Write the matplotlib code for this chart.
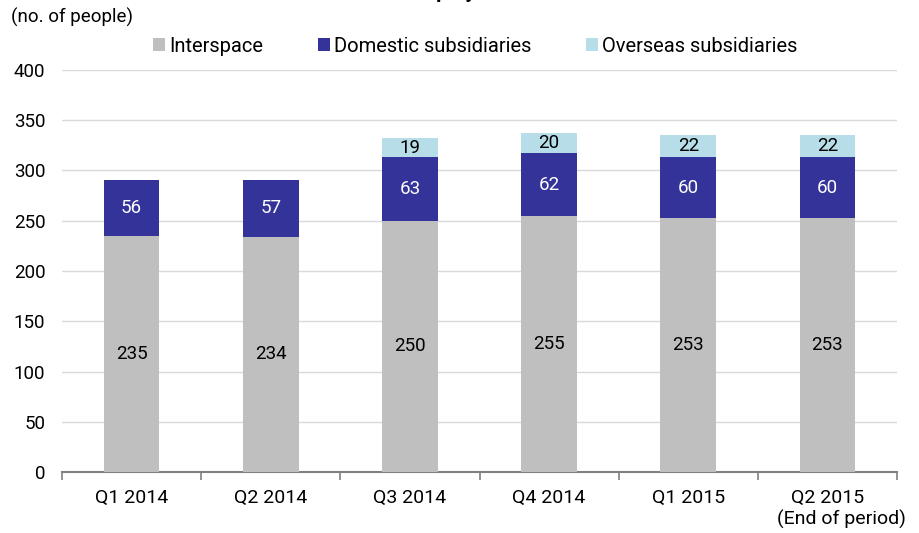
import matplotlib
matplotlib.use("Agg")
import matplotlib.pyplot as plt
import numpy as np

categories = ["Q1 2014", "Q2 2014", "Q3 2014", "Q4 2014", "Q1 2015", "Q2 2015"]
interspace = [235, 234, 250, 255, 253, 253]
domestic = [56, 57, 63, 62, 60, 60]
overseas = [0, 0, 19, 20, 22, 22]
series_names = ["Interspace", "Domestic subsidiaries", "Overseas subsidiaries"]
colors = ["#BFBFBF", "#333399", "#B7DEE8"]

plt.rcParams['font.family'] = ['Liberation Sans Narrow', 'Roboto', 'DejaVu Sans']

fig = plt.figure(figsize=(9.2, 5.33), dpi=100)
ax = fig.add_axes([0.0674, 0.1144, 0.9076, 0.7543])

x = np.arange(len(categories))
w = 0.4
ax.bar(x, interspace, w, color=colors[0], label=series_names[0], zorder=3)
ax.bar(x, domestic, w, bottom=interspace, color=colors[1], label=series_names[1], zorder=3)
bot3 = np.array(interspace) + np.array(domestic)
ax.bar(x, overseas, w, bottom=bot3, color=colors[2], label=series_names[2], zorder=3)

for i in range(len(categories)):
    ax.text(x[i], interspace[i] / 2, str(interspace[i]), ha='center', va='center', fontsize=13.5, color='black', zorder=4)
    ax.text(x[i], interspace[i] + domestic[i] / 2, str(domestic[i]), ha='center', va='center', fontsize=13.5, color='white', zorder=4)
    if overseas[i] > 0:
        ax.text(x[i], bot3[i] + overseas[i] / 2, str(overseas[i]), ha='center', va='center', fontsize=13.5, color='black', zorder=4)

ax.set_xlim(-0.5, len(categories) - 0.5)
ax.set_ylim(0, 400)
ax.set_yticks(range(0, 401, 50))
ax.yaxis.grid(True, color='#D9D9D9', linewidth=1, zorder=0)
ax.tick_params(axis='y', length=0, labelsize=13.5, pad=12)
for s in ['top', 'right', 'left']:
    ax.spines[s].set_visible(False)
ax.spines['bottom'].set_color('#808080')
ax.spines['bottom'].set_linewidth(1.5)

ax.set_xticks(x)
ax.set_xticklabels(categories, fontsize=14)
ax.tick_params(axis='x', length=0, pad=12)
ax.set_xticks(np.arange(-0.5, len(categories), 1), minor=True)
ax.tick_params(axis='x', which='minor', length=6, color='#808080', width=1.2)
ax.text(len(categories) - 1 + 0.1, -47, "(End of period)", ha='center', va='center', fontsize=14,
        transform=ax.transData, clip_on=False)

fig.text(0.012, 0.968, "(no. of people)", ha='left', va='center', fontsize=13.5)
fig.text(0.44, 1.0 + 2 / 533, "Number of Employees", ha='center', va='baseline', fontsize=15, fontweight='bold')

ax.legend(loc='lower center', bbox_to_anchor=(0.495, 1.0), ncol=3, frameon=False, fontsize=14.5,
          handlelength=0.6, handleheight=0.6, handletextpad=0.2, columnspacing=2.7, borderaxespad=0.3)

fig.savefig("out.png", dpi=100)
